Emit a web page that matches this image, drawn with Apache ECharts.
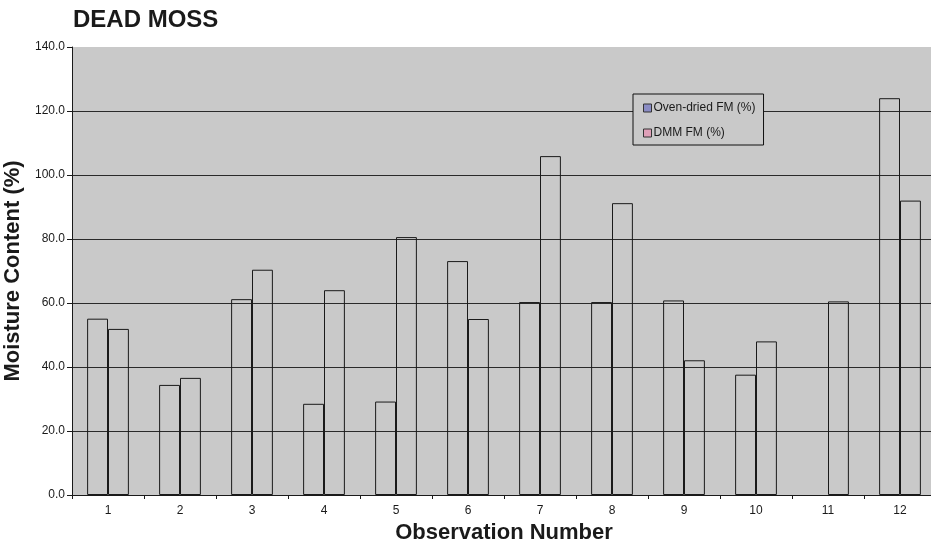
<!DOCTYPE html>
<html>
<head>
<meta charset="utf-8">
<script src="https://cdn.jsdelivr.net/npm/echarts@6/dist/echarts.min.js"></script>
<style>html,body{margin:0;padding:0;background:#fff;}#c{width:931px;height:546px;}</style>
</head>
<body>
<div id="c"></div>
<script>
const categories = ['1','2','3','4','5','6','7','8','9','10','11','12'];
const ovenDried = [55.1, 34.4, 61.2, 28.5, 29.2, 73.1, 60.3, 60.3, 60.8, 37.6, null, 124.0];
const dmm = [51.9, 36.6, 70.4, 64.0, 80.6, 55.0, 105.9, 91.2, 42.1, 48.0, 60.5, 92.0];
const seriesNames = ['Oven-dried FM (%)', 'DMM FM (%)'];
const yTicks = { min: 0, max: 140, interval: 20 };

const font = 'Liberation Sans, Arial, Helvetica, sans-serif';
const chart = echarts.init(document.getElementById('c'), null, { renderer: 'canvas' });
const barStyle = { color: 'rgba(0,0,0,0)', borderColor: '#1a1a1a', borderWidth: 1 };

chart.setOption({
  backgroundColor: '#ffffff',
  animation: false,
  title: {
    text: 'DEAD MOSS', left: 73, top: 8, padding: 0,
    textStyle: { fontFamily: font, fontSize: 24, fontWeight: 'bold', color: '#1a1a1a' }
  },
  legend: {
    orient: 'vertical', left: 633, top: 94,
    padding: [8, 8, 6, 10], itemGap: 13, itemWidth: 8, itemHeight: 8,
    backgroundColor: '#c9c9c9', borderColor: '#111', borderWidth: 1, borderRadius: 0,
    textStyle: { fontFamily: font, fontSize: 12, color: '#1a1a1a', padding: [0, 0, 0, -3] },
    data: [
      { name: seriesNames[0], icon: 'rect', itemStyle: { color: '#8a8cc4', borderColor: '#333', borderWidth: 1 } },
      { name: seriesNames[1], icon: 'rect', itemStyle: { color: '#dfa0b8', borderColor: '#333', borderWidth: 1 } }
    ]
  },
  grid: { left: 72, right: -5, top: 47, bottom: 51, show: true, backgroundColor: '#c9c9c9', borderWidth: 0, outerBoundsMode: 'none', containLabel: false },
  xAxis: {
    type: 'category', data: categories,
    name: 'Observation Number', nameLocation: 'middle', nameGap: 27,
    nameTextStyle: { fontFamily: font, fontSize: 22, fontWeight: 'bold', color: '#1a1a1a' },
    axisLine: { lineStyle: { color: '#1a1a1a', width: 1 } },
    axisTick: { show: true, length: 4, lineStyle: { color: '#1a1a1a' } },
    axisLabel: { fontFamily: font, fontSize: 12, color: '#1a1a1a', margin: 10 },
    splitLine: { show: false }
  },
  yAxis: {
    type: 'value', min: yTicks.min, max: yTicks.max, interval: yTicks.interval,
    name: 'Moisture Content (%)', nameLocation: 'middle', nameGap: 41,
    nameTextStyle: { fontFamily: font, fontSize: 22, fontWeight: 'bold', color: '#1a1a1a' },
    axisLine: { show: true, lineStyle: { color: '#1a1a1a', width: 1 } },
    axisTick: { show: true, length: 5, lineStyle: { color: '#1a1a1a' } },
    axisLabel: { fontFamily: font, fontSize: 12, color: '#1a1a1a', margin: 7, formatter: v => v.toFixed(1) },
    splitLine: { show: true, showMaxLine: false, lineStyle: { color: '#2a2a2a', width: 1 } }
  },
  series: [
    { name: seriesNames[0], type: 'bar', data: ovenDried, barGap: '0%', barCategoryGap: '42%', itemStyle: barStyle, z: 3 },
    { name: seriesNames[1], type: 'bar', data: dmm, barGap: '0%', barCategoryGap: '42%', itemStyle: barStyle, z: 3 }
  ]
});
</script>
</body>
</html>
